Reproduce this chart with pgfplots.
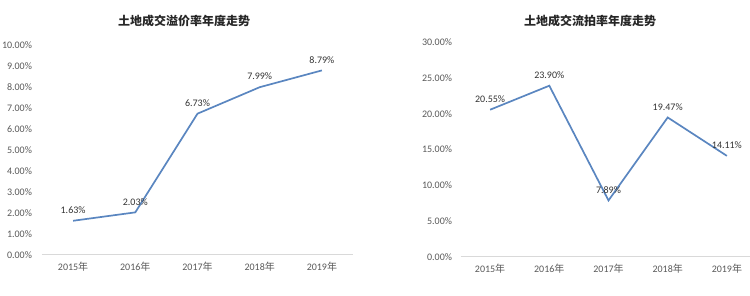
\documentclass[border=0pt]{standalone}
\usepackage{pgfplots}
\pgfplotsset{compat=1.18}
\usepackage{fontspec}
\setmainfont{Carlito}
\newfontfamily\cjk{Noto Sans CJK SC}
\definecolor{linec}{HTML}{5A86C0}
\definecolor{tickc}{HTML}{595959}
\definecolor{gridc}{HTML}{D9D9D9}
\begin{document}
\begin{tikzpicture}
\useasboundingbox (0pt,0pt) rectangle (750pt,296pt);
\pgfplotsset{
  mystyle/.style={
    scale only axis,
    axis x line*=bottom,
    axis y line*=left,
    y axis line style={draw=none},
    x axis line style={gridc, line width=1pt, -},
    xtick=data,
    xticklabels={2015{\cjk 年},2016{\cjk 年},2017{\cjk 年},2018{\cjk 年},2019{\cjk 年}},
    xmin=-0.5, xmax=4.5,
    major tick length=0pt,
    tick style={draw=none},
    ticklabel style={font=\fontsize{10}{12}\selectfont, text=tickc},
    xticklabel style={yshift=-4pt},
    /pgf/number format/assume math mode=true,
    yticklabel={\pgfmathprintnumber[fixed,fixed zerofill,precision=2,assume math mode=true]{\tick}\%},
    point meta=explicit symbolic,
    nodes near coords,
    every node near coord/.append style={font=\fontsize{10}{12}\selectfont, text=black!80, anchor=south, yshift=3pt},
    clip=false,
  }
}
\node[font=\cjk\bfseries\fontsize{12}{14}\selectfont, text=black!85] at (184pt,275pt) {土地成交溢价率年度走势};
\node[font=\cjk\bfseries\fontsize{12}{14}\selectfont, text=black!85] at (590pt,275pt) {土地成交流拍率年度走势};
\begin{axis}[mystyle, at={(42pt,41pt)}, anchor=south west, width=311pt, height=210pt,
  ymin=0, ymax=10, ytick={0,1,...,10}, yticklabel style={xshift=-6.5pt}]
\addplot[linec, line width=1.7pt, mark=none] coordinates {
  (0,1.63)[1.63\%] (1,2.03)[2.03\%] (2,6.73)[6.73\%] (3,7.99)[7.99\%] (4,8.79)[8.79\%]};
\end{axis}
\begin{axis}[mystyle, at={(460.5pt,39pt)}, anchor=south west, width=296pt, height=215pt,
  ymin=0, ymax=30, ytick={0,5,...,30}, yticklabel style={xshift=-5pt}]
\addplot[linec, line width=1.7pt, mark=none] coordinates {
  (0,20.55)[20.55\%] (1,23.90)[23.90\%] (2,7.89)[7.89\%] (3,19.47)[19.47\%] (4,14.11)[14.11\%]};
\end{axis}
\end{tikzpicture}
\end{document}
